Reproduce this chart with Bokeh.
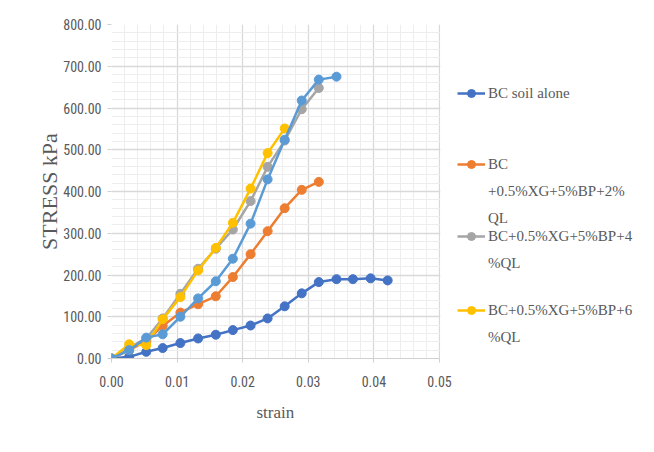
from bokeh.plotting import figure
from bokeh.models import (Legend, LegendItem, FixedTicker, NumeralTickFormatter,
                          BoxAnnotation, Title)
from bokeh.embed import file_html
from bokeh.resources import INLINE

strain = [0.0, 0.0027, 0.0053, 0.0078, 0.0105, 0.0132, 0.0159, 0.0185, 0.0212,
          0.0238, 0.0264, 0.0290, 0.0316, 0.0343, 0.0368, 0.0395, 0.0421]

bc_alone = [0, 4, 16, 25, 37, 48, 57, 68, 79, 96, 125, 156, 183, 190, 190, 192, 187]
bc_2ql = [0, 20, 42, 78, 110, 130, 149, 195, 250, 305, 360, 404, 423]
bc_4ql = [0, 26, 48, 96, 155, 215, 263, 309, 377, 459, 522, 597, 648]
bc_6ql = [0, 34, 32, 94, 147, 211, 265, 325, 407, 492, 551]
bc_extra = [0, 20, 50, 58, 100, 144, 185, 239, 323, 429, 524, 618, 668, 675]

labels = [["BC soil alone"],
          ["BC", "+0.5%XG+5%BP+2%", "QL"],
          ["BC+0.5%XG+5%BP+4", "%QL"],
          ["BC+0.5%XG+5%BP+6", "%QL"]]

x_ticks = [0.0, 0.01, 0.02, 0.03, 0.04, 0.05]
y_ticks = [0, 100, 200, 300, 400, 500, 600, 700, 800]

colors = ["#4472C4", "#ED7D31", "#A5A5A5", "#FFC000", "#5B9BD5"]

W, H = 638, 436
FRAME_L, FRAME_T, FRAME_B = 111, 24, 358
DATA_W = 328  # pixel width of the 0..0.05 data span
X_MAX = x_ticks[-1]
x_end = X_MAX * (W - FRAME_L) / DATA_W

p = figure(width=W, height=H, x_range=(0, x_end), y_range=(0, 800),
           output_backend="svg", toolbar_location=None,
           min_border_left=FRAME_L, min_border_right=0,
           min_border_top=FRAME_T, min_border_bottom=H - FRAME_B)
p.outline_line_color = None

series = [bc_alone, bc_2ql, bc_4ql, bc_6ql, bc_extra]
rends = []
for i, ys in enumerate(series):
    xs = strain[:len(ys)]
    r = p.line(xs, ys, line_color=colors[i], line_width=2.5)
    c = p.scatter(xs, ys, size=9, fill_color=colors[i], line_color=colors[i])
    rends.append([r, c])

minor_x = [i * 0.002 for i in range(26)]
minor_y = [i * 20 for i in range(41)]
p.xaxis.ticker = FixedTicker(ticks=x_ticks, minor_ticks=minor_x)
p.yaxis.ticker = FixedTicker(ticks=y_ticks, minor_ticks=minor_y)
p.xaxis.formatter = NumeralTickFormatter(format="0.00")
p.yaxis.formatter = NumeralTickFormatter(format="0.00")
p.xaxis.bounds = (0, X_MAX)

p.xgrid.grid_line_color = "#d9d9d9"
p.ygrid.grid_line_color = "#d9d9d9"
p.xgrid.minor_grid_line_color = "#ededed"
p.ygrid.minor_grid_line_color = "#ededed"
p.xgrid.grid_line_width = 1.3
p.ygrid.grid_line_width = 1.3

# blank out the grid beyond the data span (legend area)
p.add_layout(BoxAnnotation(left=X_MAX + 0.00012, fill_color="white",
                           fill_alpha=1.0, line_color=None, level="underlay"))

tick_font = "'Liberation Sans Narrow', 'Roboto Condensed', 'Liberation Sans'"
for ax in (p.xaxis, p.yaxis):
    ax.major_label_text_font = tick_font
    ax.major_label_text_font_size = "14px"
    ax.major_label_text_color = "#595959"
    ax.axis_line_color = "#d0d0d0"
    ax.major_tick_line_color = "#d0d0d0"
    ax.major_tick_in = 0
    ax.major_tick_out = 4
    ax.minor_tick_line_color = None
    ax.axis_label_text_font = "Liberation Serif"
    ax.axis_label_text_font_style = "normal"
    ax.axis_label_text_color = "#595959"

p.yaxis.axis_line_color = None
p.xaxis.major_label_standoff = 13
p.yaxis.major_label_standoff = 6
p.yaxis.axis_label = "STRESS kPa"
p.yaxis.axis_label_text_font_size = "22px"
p.yaxis.axis_label_standoff = -2

# x-axis title centred under the 0..0.05 span
xtitle = Title(text="strain", align="left", offset=DATA_W / 2 - 19,
               text_font="Liberation Serif", text_font_size="17px",
               text_font_style="normal", text_color="#595959", standoff=23)
p.add_layout(xtitle, "below")

# legend entries: centre (canvas y) of each entry's first line
first_centres = [93, 164, 236, 310]
ITEM_H, SPACING = 20, 7
legend_x = 457 - FRAME_L
for k, lines in enumerate(labels):
    its = [LegendItem(label=lines[0], renderers=rends[k])]
    for extra in lines[1:]:
        its.append(LegendItem(label=extra, renderers=[]))
    n = len(lines)
    top = first_centres[k] - ITEM_H / 2
    bottom = top + n * ITEM_H + (n - 1) * SPACING
    lg = Legend(items=its, location=(legend_x, FRAME_B - bottom))
    lg.label_text_font = "Liberation Serif"
    lg.label_text_font_size = "15px"
    lg.label_text_color = "#595959"
    lg.border_line_color = None
    lg.background_fill_alpha = 0
    lg.glyph_width = 28
    lg.glyph_height = ITEM_H
    lg.label_height = ITEM_H
    lg.spacing = SPACING
    lg.margin = 0
    lg.padding = 0
    lg.label_standoff = 3
    p.add_layout(lg, "center")

open("out.html", "w").write(file_html(p, INLINE))
